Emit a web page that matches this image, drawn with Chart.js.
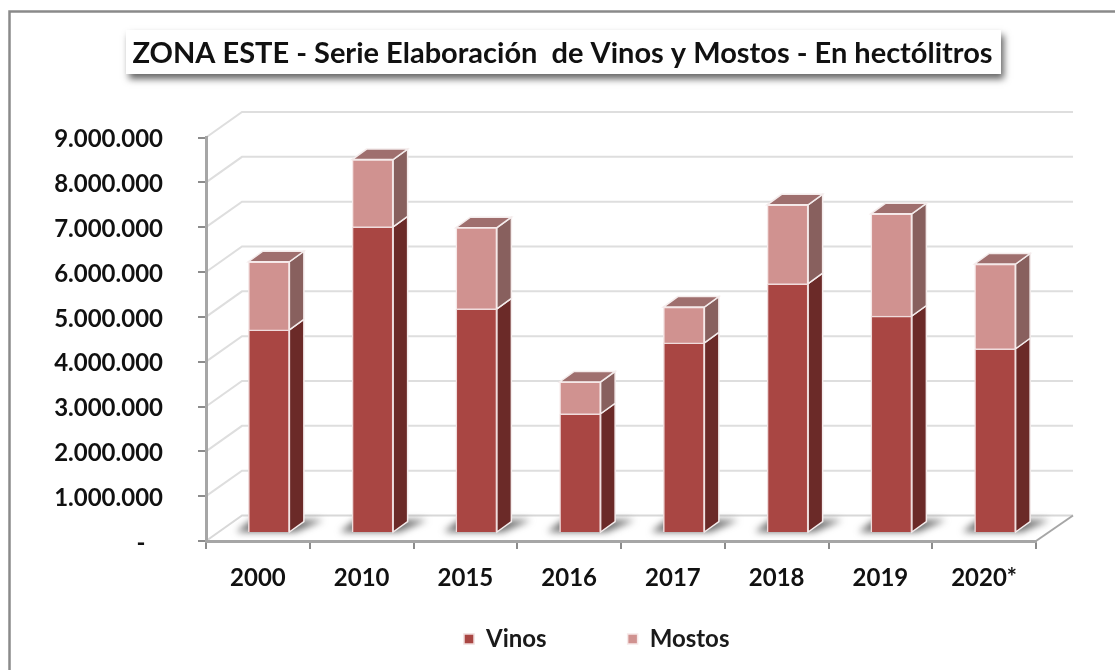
<!DOCTYPE html>
<html><head><meta charset="utf-8">
<style>html,body{margin:0;padding:0;background:#fff}#w{width:1115px;height:670px;position:relative}</style>
<script src="https://cdn.jsdelivr.net/npm/chart.js@4"></script></head>
<body><div id="w"><canvas id="c" width="1115" height="670"></canvas></div>
<script>
const categories = ['2000','2010','2015','2016','2017','2018','2019','2020*'];
const vinos  = [4530000,6830000,5000000,2660000,4240000,5560000,4840000,4110000];
const mostos = [1520000,1500000,1810000,710000,800000,1760000,2280000,1890000];
const tickLabels = ['-   ','1.000.000','2.000.000','3.000.000','4.000.000','5.000.000','6.000.000','7.000.000','8.000.000','9.000.000'];
const titleText = 'ZONA ESTE - Serie Elaboración  de Vinos y Mostos - En hectólitros';
const FONT = 'Lato, Carlito, sans-serif';
const BACK = {x:36, y:-25.5}, SHIFT = {x:11, y:-8}, DEPTH = {x:14.5, y:-10.5};
const sideCols = ['#6b2a28','#88605e'], topCol = '#9f6f6e';

function poly(ctx, pts){ctx.beginPath();pts.forEach((p,i)=>i?ctx.lineTo(p[0],p[1]):ctx.moveTo(p[0],p[1]));ctx.closePath();}

const deco = {
  id:'deco',
  afterLayout(chart){
    const l = chart.legend, t = chart.titleBlock;
    l.left = 464 - l.options.labels.padding; l.top = 627 - l.options.labels.padding; l.bottom = 670; l.right = 1115;
    t.left = 125; t.right = 1000;
  },
  beforeDraw(chart){
    const ctx = chart.ctx, {left,right} = chart.chartArea, y = chart.scales.y;
    ctx.save();
    ctx.fillStyle = '#fff'; ctx.fillRect(0,0,1115,670);
    ctx.strokeStyle = '#8a8a8a'; ctx.lineWidth = 2.5;
    ctx.beginPath(); ctx.moveTo(9.5,670); ctx.lineTo(9.5,11.5); ctx.lineTo(1115,11.5); ctx.stroke();
    ctx.save();
    ctx.shadowColor = 'rgba(0,0,0,0.6)'; ctx.shadowBlur = 7; ctx.shadowOffsetX = 3; ctx.shadowOffsetY = 5;
    ctx.fillStyle = '#fff'; ctx.fillRect(126,30,875,44);
    ctx.restore();
    ctx.strokeStyle = '#dedede'; ctx.lineWidth = 2;
    y.ticks.forEach(t => {
      const py = y.getPixelForValue(t.value);
      if (t.value === 0) return;
      ctx.beginPath(); ctx.moveTo(left,py); ctx.lineTo(left+BACK.x,py+BACK.y); ctx.lineTo(right+BACK.x+1,py+BACK.y); ctx.stroke();
    });
    const y0 = y.getPixelForValue(0);
    ctx.strokeStyle = '#d8d8d8'; ctx.lineWidth = 2;
    ctx.beginPath(); ctx.moveTo(left,y0); ctx.lineTo(left+BACK.x,y0+BACK.y); ctx.lineTo(right+BACK.x+1,y0+BACK.y); ctx.stroke();
    ctx.strokeStyle = '#a6a6a6';
    ctx.beginPath(); ctx.moveTo(right,y0); ctx.lineTo(right+BACK.x+1,y0+BACK.y); ctx.stroke();
    ctx.restore();
  },
  beforeDatasetsDraw(chart){
    const ctx = chart.ctx, metas = [chart.getDatasetMeta(0), chart.getDatasetMeta(1)];
    ctx.save();
    ctx.filter = 'blur(3.5px)';
    metas[0].data.forEach(b => {
      const L = b.x - b.width/2 + SHIFT.x, R = b.x + b.width/2 + SHIFT.x, B = b.base + SHIFT.y;
      ctx.fillStyle = 'rgba(85,85,85,0.85)';
      poly(ctx, [[L-12,B],[R+6,B],[R+34,B-12],[L+3,B-12]]); ctx.fill();
    });
    ctx.filter = 'none';
    ctx.lineWidth = 1.5; ctx.strokeStyle = '#f4ecec';
    const n = metas[0].data.length;
    for (let i=0;i<n;i++){
      metas.forEach((m,k) => {
        const b = m.data[i], R = b.x + b.width/2 + SHIFT.x, T = b.y + SHIFT.y, B = b.base + SHIFT.y;
        ctx.fillStyle = sideCols[k];
        poly(ctx, [[R,B],[R+DEPTH.x,B+DEPTH.y],[R+DEPTH.x,T+DEPTH.y],[R,T]]); ctx.fill(); ctx.stroke();
      });
      const b = metas[1].data[i], L = b.x - b.width/2 + SHIFT.x, R = b.x + b.width/2 + SHIFT.x, T = b.y + SHIFT.y;
      ctx.fillStyle = topCol;
      poly(ctx, [[L,T],[R,T],[R+DEPTH.x,T+DEPTH.y],[L+DEPTH.x,T+DEPTH.y]]); ctx.fill(); ctx.stroke();
    }
    ctx.restore();
    ctx.save();
    ctx.translate(SHIFT.x, SHIFT.y);
  },
  afterDatasetsDraw(chart){ chart.ctx.restore(); }
};

new Chart(document.getElementById('c'), {
  type:'bar',
  data:{labels:categories, datasets:[
    {label:'Vinos', data:vinos, backgroundColor:'#a94643', borderColor:'#f0dcdc', borderWidth:1.5, barThickness:41},
    {label:'Mostos', data:mostos, backgroundColor:'#d09290', borderColor:'#f6e8e8', borderWidth:1.5, barThickness:41}
  ]},
  plugins:[deco],
  options:{
    responsive:false, animation:false,
    layout:{padding:{left:0,right:79,top:0,bottom:59}},
    plugins:{
      tooltip:{enabled:false},
      title:{display:true,text:titleText,color:'#111',font:{family:FONT,size:29,weight:'bold',lineHeight:1},padding:{top:39,bottom:69.5}},
      legend:{display:true,position:'bottom',align:'start',maxHeight:10,
        labels:{boxWidth:10,boxHeight:10,padding:81,color:'#1a1a1a',font:{family:FONT,size:24,weight:'bold'}}}
    },
    scales:{
      x:{stacked:true,offset:true,
        afterFit(s){s.height=60;},
        border:{color:'#a6a6a6',width:3},
        grid:{drawOnChartArea:false,drawTicks:true,tickLength:8,color:'#8c8c8c',lineWidth:2},
        ticks:{color:'#111',padding:15,maxRotation:0,font:{family:FONT,size:24,weight:'bold'}}},
      y:{stacked:true,min:0,max:9000000,
        afterFit(s){s.width=206;},
        border:{color:'#a6a6a6',width:3},
        grid:{drawOnChartArea:false,drawTicks:true,tickLength:8,color:'#8c8c8c',lineWidth:2},
        ticks:{stepSize:1000000,color:'#111',padding:35,labelOffset:2,font:{family:FONT,size:24,weight:'bold'},
          callback:(v,i)=>tickLabels[i]}}
    }
  }
});
</script></body></html>
